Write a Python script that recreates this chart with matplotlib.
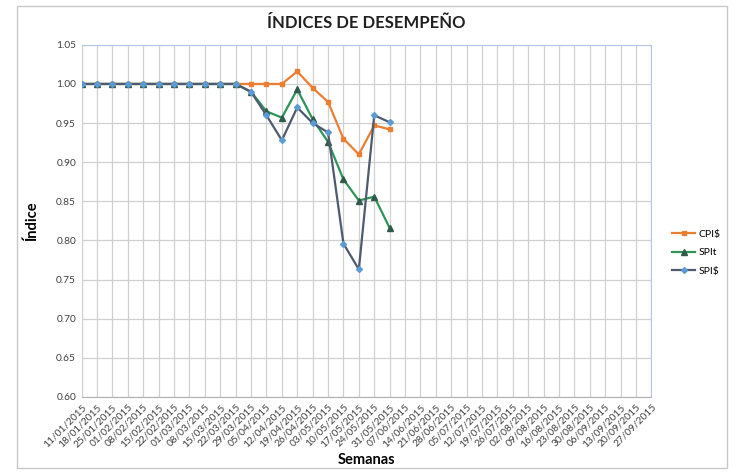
"""Índices de desempeño (CPI$, SPIt, SPI$) por semana, 2015."""

import matplotlib
matplotlib.use("Agg")
import matplotlib.pyplot as plt
import numpy as np

weeks = [
    "11/01/2015", "18/01/2015", "25/01/2015", "01/02/2015", "08/02/2015",
    "15/02/2015", "22/02/2015", "01/03/2015", "08/03/2015", "15/03/2015",
    "22/03/2015", "29/03/2015", "05/04/2015", "12/04/2015", "19/04/2015",
    "26/04/2015", "03/05/2015", "10/05/2015", "17/05/2015", "24/05/2015",
    "31/05/2015", "07/06/2015", "14/06/2015", "21/06/2015", "28/06/2015",
    "05/07/2015", "12/07/2015", "19/07/2015", "26/07/2015", "02/08/2015",
    "09/08/2015", "16/08/2015", "23/08/2015", "30/08/2015", "06/09/2015",
    "13/09/2015", "20/09/2015", "27/09/2015",
]

cpi_cost = [1.00] * 14 + [1.016, 0.995, 0.977, 0.930, 0.910, 0.947, 0.942]
spi_time = [1.00] * 11 + [0.990, 0.965, 0.957, 0.993, 0.955, 0.926,
                          0.878, 0.851, 0.856, 0.816]
spi_cost = [1.00] * 11 + [0.990, 0.960, 0.928, 0.970, 0.950, 0.938,
                          0.796, 0.763, 0.960, 0.951]

plt.rcParams["font.family"] = ["Lato", "DejaVu Sans"]

fig = plt.figure(figsize=(7.42, 4.72), dpi=100)
ax = fig.add_axes([0.110, 0.159, 0.768, 0.746])

ax.plot(np.arange(len(cpi_cost)), cpi_cost, color="#ED7D31", lw=1.6,
        marker="s", ms=3.5, mfc="#ED7D31", mec="#ED7D31", label="CPI$", zorder=3)
ax.plot(np.arange(len(spi_time)), spi_time, color="#2E9356", lw=1.6,
        marker="^", ms=5, mfc="#2F5A4C", mec="#2F5A4C", label="SPIt", zorder=4)
ax.plot(np.arange(len(spi_cost)), spi_cost, color="#4E5A6E", lw=1.6,
        marker="D", ms=3, mfc="#5B9BD5", mec="#5B9BD5", label="SPI$", zorder=5)

ax.set_xlim(0, len(weeks) - 1)
ax.set_ylim(0.60, 1.05)
ax.set_xticks(np.arange(len(weeks)))
ax.set_xticklabels(weeks, rotation=45, ha="right", rotation_mode="anchor",
                   fontsize=7.3, color="#404040")
ax.set_yticks(np.arange(0.60, 1.051, 0.05))
ax.set_yticklabels([f"{v:.2f}" for v in np.arange(0.60, 1.051, 0.05)],
                   fontsize=7.3, color="#404040")
ax.tick_params(length=0, pad=4)
ax.grid(True, color="#D0D0D0", lw=0.9)
ax.set_axisbelow(True)
for side in ("top", "right"):
    ax.spines[side].set_color("#B4C7E7")
ax.spines["left"].set_color("#D0D0D0")
ax.spines["bottom"].set_color("#B0B0B0")

ax.set_title("ÍNDICES DE DESEMPEÑO", fontsize=12, fontweight="bold",
             color="#202020", pad=12)
ax.set_xlabel("Semanas", fontsize=10.5, fontweight="bold", labelpad=3)
ax.set_ylabel("Índice", fontsize=10.5, fontweight="bold", labelpad=12)

ax.legend(loc="center left", bbox_to_anchor=(1.02, 0.41), frameon=False,
          fontsize=7.5, handlelength=2.2, labelspacing=0.9, handletextpad=0.3)

# outer chart border
fig.patches.append(plt.Rectangle((0.023, 0.008), 0.957, 0.980,
                                 transform=fig.transFigure, fill=False,
                                 ec="#C8C8C8", lw=1))

fig.savefig("out.png", dpi=100)
